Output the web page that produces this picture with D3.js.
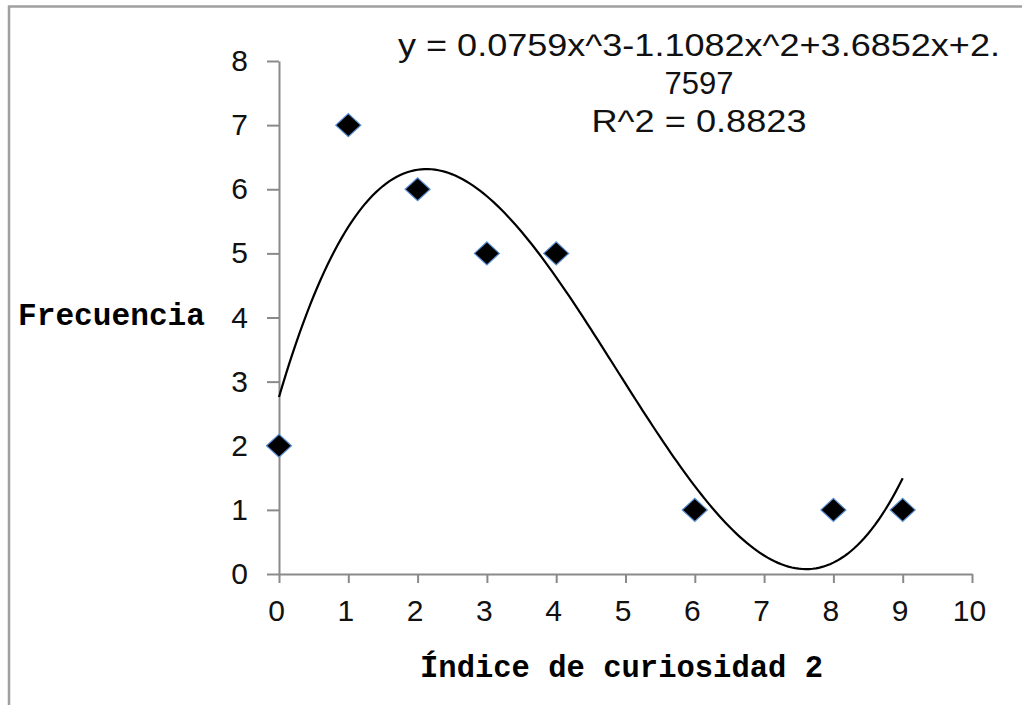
<!DOCTYPE html>
<html>
<head>
<meta charset="utf-8">
<script src="https://cdn.jsdelivr.net/npm/d3@7"></script>
<style>
  html, body { margin: 0; padding: 0; background: #fff; }
  svg { display: block; }
</style>
</head>
<body>
<div class="chart"></div>
<script>
// 数据
var xValues = [0, 1, 2, 3, 4, 6, 8, 9]
var yValues = [2, 7, 6, 5, 5, 1, 1, 1]
var coef = [2.7597, 3.6852, -1.1082, 0.0759]   // 三次趋势线系数 a0..a3
var xTicks = [0, 1, 2, 3, 4, 5, 6, 7, 8, 9, 10]
var yTicks = [0, 1, 2, 3, 4, 5, 6, 7, 8]
var eqLines = ['y = 0.0759x^3-1.1082x^2+3.6852x+2.', '7597', 'R^2 = 0.8823']
var xTitle = 'Índice de curiosidad 2'
var yTitle = 'Frecuencia'

function drawChart() {
  var width = 1022
  var height = 705
  var axisColor = '#8a8a8a'

  var svg = d3.select('.chart').append('svg').attr('width', width).attr('height', height)

  // 外框
  svg.append('rect')
    .attr('x', 9).attr('y', 6.5)
    .attr('width', width + 20).attr('height', height + 20)
    .attr('fill', '#fff')
    .attr('stroke', '#a0a0a0')
    .attr('stroke-width', 2.5)

  var x = d3.scaleLinear().domain([0, 10]).range([279, 972])
  var y = d3.scaleLinear().domain([0, 8]).range([574, 61])

  // y轴
  var axisLeft = d3.axisLeft(y).tickValues(yTicks).tickSize(12).tickPadding(19).tickSizeOuter(0)
  var gy = svg.append('g').attr('transform', 'translate(' + x(0) + ', 0)').call(axisLeft)
  gy.select('.domain').attr('stroke', axisColor).attr('stroke-width', 2)
  gy.selectAll('.tick line').attr('stroke', axisColor).attr('stroke-width', 2)
  gy.selectAll('text')
    .attr('fill', '#111')
    .style('font-family', '"Liberation Sans Narrow", "Liberation Sans", Arial, sans-serif')
    .style('font-size', '30px')

  // x轴
  var axisBottom = d3.axisBottom(x).tickValues(xTicks).tickSize(9).tickPadding(17).tickSizeOuter(0)
  var gx = svg.append('g').attr('transform', 'translate(0, ' + y(0) + ')').call(axisBottom)
  gx.select('.domain').attr('stroke', axisColor).attr('stroke-width', 2)
  gx.selectAll('.tick line').attr('stroke', axisColor).attr('stroke-width', 2)
  gx.selectAll('text')
    .attr('fill', '#111')
    .attr('dx', -3)
    .style('font-family', '"Liberation Sans Narrow", "Liberation Sans", Arial, sans-serif')
    .style('font-size', '30px')

  // 趋势线
  var curveX = d3.range(0, 9.0001, 0.05)
  var line = d3.line()
    .x(function(d) { return x(d) })
    .y(function(d) { return y(coef[0] + coef[1] * d + coef[2] * d * d + coef[3] * d * d * d) })
    .curve(d3.curveLinear)

  svg.append('path')
    .datum(curveX)
    .attr('d', line)
    .attr('fill', 'none')
    .attr('stroke', '#000')
    .attr('stroke-width', 2.2)

  // 散点
  var points = xValues.map(function(v, i) { return { x: v, y: yValues[i] } })
  svg.selectAll('.pt').data(points).enter().append('path')
    .attr('class', 'pt')
    .attr('d', 'M-12.5,0L0,-11.5L12.5,0L0,11.5Z')
    .attr('transform', function(d) { return 'translate(' + x(d.x) + ', ' + y(d.y) + ')' })
    .attr('fill', '#000')
    .attr('stroke', '#5a8fd6')
    .attr('stroke-width', 1.2)

  // 公式
  var eq = svg.append('g')
    .style('font-family', '"Liberation Sans", Arial, sans-serif')
    .style('font-size', '31px')
    .attr('fill', '#111')
    .attr('text-anchor', 'middle')
  var eqY = [56, 94, 132]
  var eqLen = [602, null, 215]
  eqLines.forEach(function(t, i) {
    var txt = eq.append('text').attr('x', 699).attr('y', eqY[i]).text(t)
    if (eqLen[i]) {
      txt.attr('textLength', eqLen[i]).attr('lengthAdjust', 'spacingAndGlyphs')
    }
  })

  // 轴标题
  svg.append('text')
    .attr('x', 18).attr('y', 325)
    .attr('fill', '#000')
    .style('font-family', '"Liberation Mono", "Courier New", monospace')
    .style('font-weight', 'bold')
    .style('font-size', '31px')
    .attr('textLength', 187).attr('lengthAdjust', 'spacingAndGlyphs')
    .text(yTitle)

  svg.append('text')
    .attr('x', 420).attr('y', 677)
    .attr('fill', '#000')
    .style('font-family', '"Liberation Mono", "Courier New", monospace')
    .style('font-weight', 'bold')
    .style('font-size', '31px')
    .attr('textLength', 403).attr('lengthAdjust', 'spacingAndGlyphs')
    .text(xTitle)
}

drawChart()
</script>
</body>
</html>
